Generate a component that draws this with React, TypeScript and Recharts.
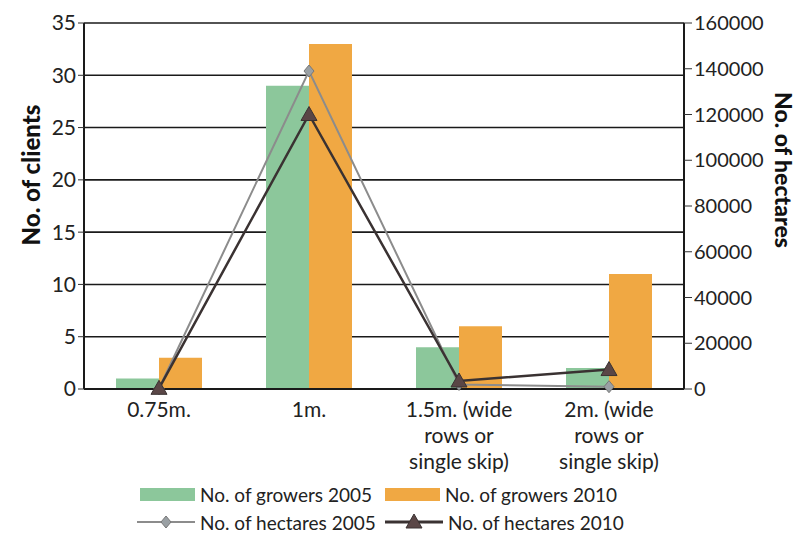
import { ComposedChart, Bar, Line, XAxis, YAxis, CartesianGrid } from "recharts";

const categories = ["0.75m.", "1m.", "1.5m. (wide rows or single skip)", "2m. (wide rows or single skip)"];
const categoryLines = [["0.75m."], ["1m."], ["1.5m. (wide", "rows or", "single skip)"], ["2m. (wide", "rows or", "single skip)"]];
const growers2005 = [1, 29, 4, 2];
const growers2010 = [3, 33, 6, 11];
const hectares2005 = [200, 139000, 2000, 1000];
const hectares2010 = [300, 120000, 3500, 8500];
const clientTicks = [0, 5, 10, 15, 20, 25, 30, 35];
const hectareTicks = [0, 20000, 40000, 60000, 80000, 100000, 120000, 140000, 160000];

const data = categories.map((name, i) => ({
  name,
  idx: i,
  g2005: growers2005[i],
  g2010: growers2010[i],
  h2005: hectares2005[i],
  h2010: hectares2010[i],
}));

const FONT = "Lato, 'Open Sans', sans-serif";
const GREEN = "#8cc79b";
const ORANGE = "#f0a843";
const GREY = "#8c8c8c";
const DARK = "#3a3232";

const CatTick = (props: any) => {
  const { x, y, payload } = props;
  const lines = categoryLines[categories.indexOf(payload.value)] || [payload.value];
  return (
    <g>
      {lines.map((l, i) => (
        <text key={i} x={x} y={y + 20 + i * 26} textAnchor="middle" fontSize={21} fill="#222" fontFamily={FONT}>
          {l}
        </text>
      ))}
    </g>
  );
};

const Diamond = (props: any) => {
  const { cx, cy } = props;
  if (cx == null || cy == null) return null;
  return <path d={`M${cx},${cy - 6} L${cx + 5},${cy} L${cx},${cy + 6} L${cx - 5},${cy} Z`} fill="#9aa0a4" stroke="#777" strokeWidth={1} />;
};

const Triangle = (props: any) => {
  const { cx, cy } = props;
  if (cx == null || cy == null) return null;
  return <path d={`M${cx},${cy - 8} L${cx + 8},${cy + 6} L${cx - 8},${cy + 6} Z`} fill="#5a4646" stroke={DARK} strokeWidth={1} />;
};

const LegendRow = ({ swatch, label }: { swatch: any; label: string }) => (
  <div style={{ display: "flex", alignItems: "center", whiteSpace: "nowrap", height: 26 }}>
    {swatch}
    <span style={{ marginLeft: 5, fontSize: 19, color: "#222", fontFamily: FONT, whiteSpace: "nowrap" }}>{label}</span>
  </div>
);

const lineSwatch = (marker: "diamond" | "triangle") => (
  <svg width={58} height={16} style={{ flexShrink: 0 }}>
    <line x1={0} y1={8} x2={58} y2={8} stroke={marker === "diamond" ? GREY : DARK} strokeWidth={marker === "diamond" ? 2 : 3} />
    {marker === "diamond" ? <Diamond cx={29} cy={8} /> : <Triangle cx={29} cy={8} />}
  </svg>
);

const App = () => {
  return (
    <div style={{ position: "absolute", left: 0, top: 0, width: 799, height: 542, background: "#fff" }}>
      <ComposedChart width={799} height={542} data={data} margin={{ top: 23, right: 55, bottom: 63, left: 34 }} barGap={0}>
        <CartesianGrid vertical={false} stroke="#1a1a1a" strokeWidth={1.6} yAxisId="left" />
        <XAxis
          dataKey="name"
          xAxisId="cat"
          tick={<CatTick />}
          tickLine={false}
          axisLine={{ stroke: "#1a1a1a", strokeWidth: 2 }}
          height={90}
          interval={0}
        />
        <XAxis
          xAxisId="edges"
          type="number"
          dataKey="idx"
          domain={[0, 4]}
          ticks={[0, 1, 2, 3, 4]}
          tick={false}
          axisLine={false}
          tickLine={{ stroke: "#555" }}
          tickSize={7}
          height={0}
        />
        <YAxis
          yAxisId="left"
          domain={[0, 35]}
          ticks={clientTicks}
          axisLine={{ stroke: "#1a1a1a", strokeWidth: 2 }}
          tickLine={{ stroke: "#333" }}
          tickSize={6}
          tick={{ fontSize: 21, fill: "#222", fontFamily: FONT }}
          width={50}
          label={{
            content: () => (
              <text x={30} y={175} transform="rotate(-90 30 175)" textAnchor="middle" dominantBaseline="central" fontSize={24} fontWeight={900} fill="#111" fontFamily={FONT}>
                No. of clients
              </text>
            ),
          }}
        />
        <YAxis
          yAxisId="right"
          orientation="right"
          domain={[0, 160000]}
          ticks={hectareTicks}
          axisLine={{ stroke: "#1a1a1a", strokeWidth: 2 }}
          tickLine={{ stroke: "#333" }}
          tickSize={8}
          tick={{ fontSize: 20, fill: "#222", fontFamily: FONT }}
          width={60}
          label={{
            content: () => (
              <text x={784} y={170} transform="rotate(90 784 170)" textAnchor="middle" dominantBaseline="central" fontSize={23} fontWeight={900} fill="#111" fontFamily={FONT}>
                No. of hectares
              </text>
            ),
          }}
        />
        <Bar dataKey="g2005" name="No. of growers 2005" xAxisId="cat" yAxisId="left" fill={GREEN} barSize={43} isAnimationActive={false} />
        <Bar dataKey="g2010" name="No. of growers 2010" xAxisId="cat" yAxisId="left" fill={ORANGE} barSize={43} isAnimationActive={false} />
        <Line dataKey="h2005" name="No. of hectares 2005" xAxisId="cat" yAxisId="right" stroke={GREY} strokeWidth={2} dot={<Diamond />} activeDot={false} isAnimationActive={false} />
        <Line dataKey="h2010" name="No. of hectares 2010" xAxisId="cat" yAxisId="right" stroke={DARK} strokeWidth={2.5} dot={<Triangle />} activeDot={false} isAnimationActive={false} />
      </ComposedChart>
      <div style={{ position: "absolute", left: 137, top: 481, display: "grid", gridTemplateColumns: "248px 260px", rowGap: 2 }}>
        <LegendRow swatch={<div style={{ width: 55, height: 13, background: GREEN, marginLeft: 3, flexShrink: 0 }} />} label="No. of growers 2005" />
        <LegendRow swatch={<div style={{ width: 55, height: 13, background: ORANGE, flexShrink: 0 }} />} label="No. of growers 2010" />
        <LegendRow swatch={lineSwatch("diamond")} label="No. of hectares 2005" />
        <LegendRow swatch={lineSwatch("triangle")} label="No. of hectares 2010" />
      </div>
    </div>
  );
};

export default App;
